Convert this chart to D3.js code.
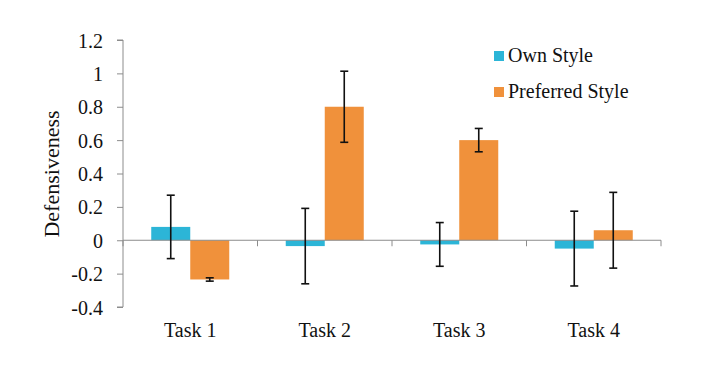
<!DOCTYPE html>
<html>
<head>
<meta charset="utf-8">
<script src="https://cdn.jsdelivr.net/npm/d3@7"></script>
<style>
  body { margin: 0; background: #fff; }
  text { font-family: "Liberation Serif", "Times New Roman", serif; fill: #111; }
</style>
</head>
<body>
<svg width="712" height="372"></svg>
<script>
// data
var tasks     = ["Task 1", "Task 2", "Task 3", "Task 4"];
var series    = ["Own Style", "Preferred Style"];
var ownVals   = [0.08, -0.035, -0.025, -0.05];
var ownErr    = [0.19, 0.226, 0.131, 0.224];
var prefVals  = [-0.235, 0.80, 0.60, 0.06];
var prefErr   = [0.01, 0.213, 0.07, 0.227];
var yTicks    = [-0.4, -0.2, 0, 0.2, 0.4, 0.6, 0.8, 1, 1.2];
var colors    = ["#2cb5d7", "#f0913b"];

var svg = d3.select("svg");
var mLeft = 123, mRight = 661, mTop = 40, mBottom = 307;

var x = d3.scaleBand().domain(tasks).range([mLeft, mRight]).paddingInner(0.42).paddingOuter(0.21);
var xs = d3.scaleBand().domain(series).range([0, x.bandwidth()]);
var y = d3.scaleLinear().domain([-0.4, 1.2]).range([mBottom, mTop]);

var rows = [];
tasks.forEach(function(t, i) {
  rows.push({ task: t, s: series[0], v: ownVals[i], e: ownErr[i], c: colors[0] });
  rows.push({ task: t, s: series[1], v: prefVals[i], e: prefErr[i], c: colors[1] });
});

// y axis
var yAxis = d3.axisLeft(y).tickValues(yTicks).tickSize(6).tickPadding(14)
  .tickFormat(function(d) { return String(d).replace("\u2212", "-"); });
var gy = svg.append("g").attr("transform", "translate(" + mLeft + ",0)").call(yAxis);
gy.selectAll("path, line").attr("stroke", "#8c8c8c");
gy.selectAll("text").style("font-size", "20px").attr("dy", "0.35em");
gy.select(".domain").attr("d", "M-6," + y(1.2) + "H0V" + y(-0.4) + "H-6");

// bars
svg.append("g").selectAll("rect")
  .data(rows)
  .enter()
  .append("rect")
  .attr("x", function(d) { return x(d.task) + xs(d.s); })
  .attr("width", xs.bandwidth())
  .attr("y", function(d) { return y(Math.max(0, d.v)); })
  .attr("height", function(d) { return Math.abs(y(d.v) - y(0)); })
  .attr("fill", function(d) { return d.c; });

// x axis at zero
var boundaries = d3.range(tasks.length + 1).map(function(i) { return mLeft + i * x.step(); });
var gx = svg.append("g");
gx.append("line")
  .attr("x1", mLeft).attr("x2", mRight)
  .attr("y1", y(0)).attr("y2", y(0))
  .attr("stroke", "#8c8c8c");
gx.selectAll("line.tk")
  .data(boundaries)
  .enter()
  .append("line")
  .attr("class", "tk")
  .attr("x1", function(d) { return d; }).attr("x2", function(d) { return d; })
  .attr("y1", y(0)).attr("y2", y(0) + 6)
  .attr("stroke", "#8c8c8c");

// error bars
var eb = svg.append("g").attr("stroke", "#111").attr("stroke-width", 1.6);
rows.forEach(function(d) {
  var cx = x(d.task) + xs(d.s) + xs.bandwidth() / 2;
  eb.append("line").attr("x1", cx).attr("x2", cx).attr("y1", y(d.v + d.e)).attr("y2", y(d.v - d.e));
  [d.v + d.e, d.v - d.e].forEach(function(v) {
    eb.append("line").attr("x1", cx - 4).attr("x2", cx + 4).attr("y1", y(v)).attr("y2", y(v));
  });
});

// category labels
svg.append("g").selectAll("text")
  .data(tasks)
  .enter()
  .append("text")
  .attr("x", function(d) { return x(d) + x.bandwidth() / 2; })
  .attr("y", 337)
  .attr("text-anchor", "middle")
  .style("font-size", "20px")
  .text(function(d) { return d; });

// y label
svg.append("text")
  .attr("transform", "translate(59,174) rotate(-90)")
  .attr("text-anchor", "middle")
  .style("font-size", "22px")
  .text("Defensiveness");

// legend
var lg = svg.append("g").attr("transform", "translate(494,51)");
series.forEach(function(s, i) {
  lg.append("rect").attr("x", 0).attr("y", i * 36).attr("width", 10).attr("height", 10).attr("fill", colors[i]);
  lg.append("text").attr("x", 14).attr("y", i * 36 + 11).style("font-size", "20px").text(s);
});
</script>
</body>
</html>
